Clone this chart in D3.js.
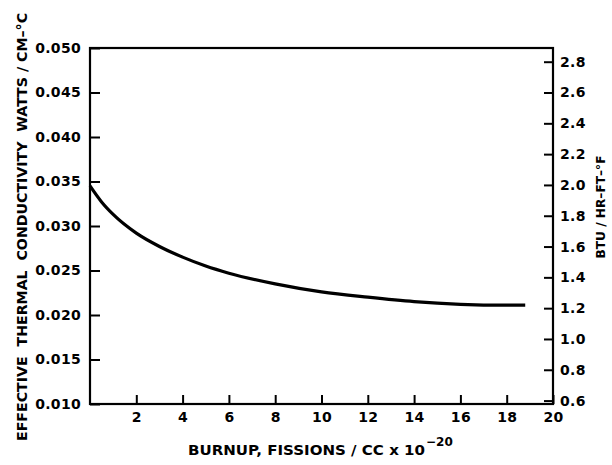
<!DOCTYPE html>
<html>
<head>
<meta charset="utf-8">
<script src="https://cdn.jsdelivr.net/npm/d3@7"></script>
<style>
  html, body { margin: 0; padding: 0; background: #fff; }
  svg { display: block; }
  text { font-family: "DejaVu Sans", "Liberation Sans", sans-serif; font-weight: bold; fill: #000; }
</style>
</head>
<body>
<svg id="chart" width="612" height="465"></svg>
<script>
// Burnup (fissions/cc x 10^-20) and effective thermal conductivity (W/cm-°C)
const burnup = [0, 0.5, 1, 2, 3, 4, 5, 6, 8, 10, 12, 14, 16, 18, 18.8];
const conductivity = [0.0345, 0.0327, 0.0313, 0.0292, 0.0277, 0.0265, 0.0255, 0.0247, 0.0235, 0.0226, 0.0220, 0.0215, 0.0212, 0.0211, 0.0211];

const xTicks = [2, 4, 6, 8, 10, 12, 14, 16, 18, 20];
const leftTicks = [0.010, 0.015, 0.020, 0.025, 0.030, 0.035, 0.040, 0.045, 0.050];
const rightTicks = [0.6, 0.8, 1.0, 1.2, 1.4, 1.6, 1.8, 2.0, 2.2, 2.4, 2.6, 2.8];

// 1 W/cm-°C = 57.78 BTU/hr-ft-°F
const WATT_TO_BTU = 57.78;

const svg = d3.select("#chart");
const plotLeft = 90, plotRight = 553, plotTop = 48, plotBottom = 404;

const x = d3.scaleLinear().domain([0, 20]).range([plotLeft, plotRight]);
const y = d3.scaleLinear().domain([0.010, 0.050]).range([plotBottom, plotTop]);
const y2 = d3.scaleLinear().domain([0.010 * WATT_TO_BTU, 0.050 * WATT_TO_BTU]).range([plotBottom, plotTop]);

// Left axis: ticks point into the plot
const leftAxis = d3.axisLeft(y).tickValues(leftTicks).tickSize(-10).tickPadding(9)
  .tickFormat(d => d3.format(".3f")(d));
const gL = svg.append("g").attr("transform", `translate(${plotLeft},0)`).call(leftAxis);

// Right axis
const rightAxis = d3.axisRight(y2).tickValues(rightTicks).tickSize(-9).tickPadding(7)
  .tickFormat(d3.format(".1f"));
const gR = svg.append("g").attr("transform", `translate(${plotRight},0)`).call(rightAxis);

// Bottom axis
const bottomAxis = d3.axisBottom(x).tickValues(xTicks).tickSize(-9).tickPadding(8)
  .tickFormat(d3.format("d"));
const gB = svg.append("g").attr("transform", `translate(0,${plotBottom})`).call(bottomAxis);

[gL, gR, gB].forEach(g => {
  g.select(".domain").remove();
  g.selectAll(".tick line").attr("stroke", "#000").attr("stroke-width", 2);
  g.selectAll(".tick text").style("font-size", "14px").style("font-family", "'DejaVu Sans', sans-serif")
    .style("font-weight", "bold").style("letter-spacing", "0.3px").attr("fill", "#000");
});

// Frame
svg.append("rect")
  .attr("x", plotLeft).attr("y", plotTop)
  .attr("width", plotRight - plotLeft).attr("height", plotBottom - plotTop)
  .attr("fill", "none").attr("stroke", "#000").attr("stroke-width", 2.2);

// Curve
const line = d3.line().x((d, i) => x(burnup[i])).y(d => y(d)).curve(d3.curveMonotoneX);
svg.append("path")
  .datum(conductivity)
  .attr("d", line)
  .attr("fill", "none").attr("stroke", "#000").attr("stroke-width", 3.2)
  .attr("stroke-linecap", "butt");

// Axis titles
svg.append("text")
  .attr("transform", `translate(27,227) rotate(-90)`)
  .attr("text-anchor", "middle")
  .style("font-size", "14px")
  .style("white-space", "pre")
  .attr("textLength", 428).attr("lengthAdjust", "spacingAndGlyphs")
  .text("EFFECTIVE  THERMAL  CONDUCTIVITY  WATTS / CM–°C");

svg.append("text")
  .attr("transform", `translate(605,207) rotate(-90)`)
  .attr("text-anchor", "middle")
  .style("font-size", "13px")
  .attr("textLength", 103).attr("lengthAdjust", "spacingAndGlyphs")
  .text("BTU / HR–FT–°F");

svg.append("text")
  .attr("x", 188).attr("y", 455)
  .style("font-size", "14px")
  .attr("textLength", 237).attr("lengthAdjust", "spacingAndGlyphs")
  .text("BURNUP, FISSIONS / CC x 10");
svg.append("text")
  .attr("x", 426).attr("y", 446)
  .style("font-size", "12px")
  .text("−20");
</script>
</body>
</html>
